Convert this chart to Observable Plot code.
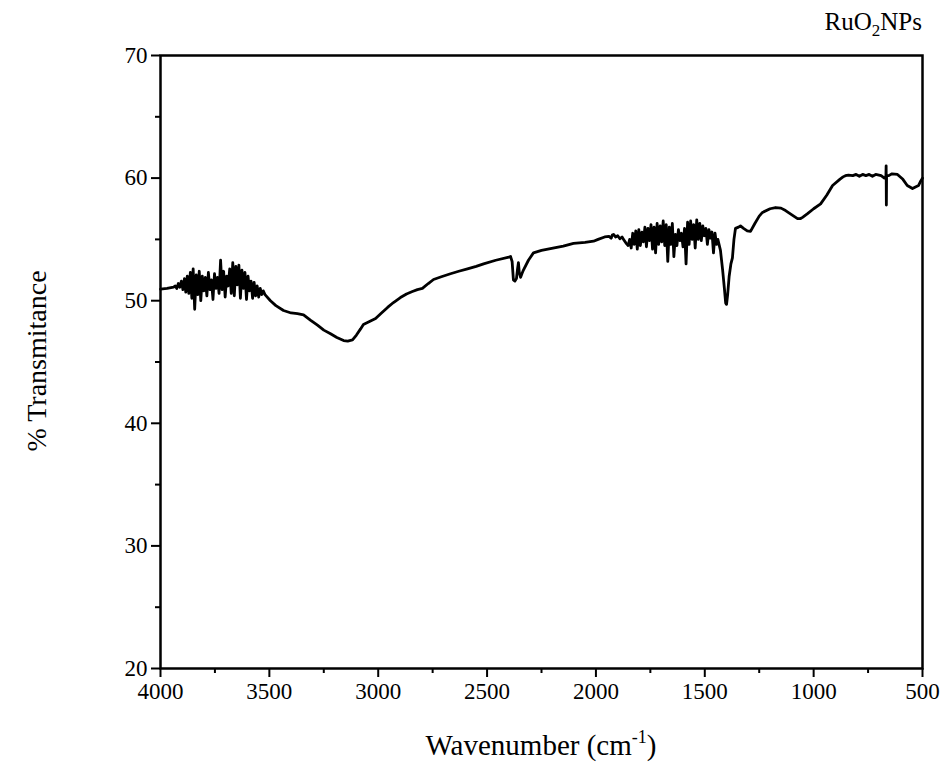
<!DOCTYPE html>
<html>
<head>
<meta charset="utf-8">
<script src="https://cdn.jsdelivr.net/npm/d3@7"></script>
<script src="https://cdn.jsdelivr.net/npm/@observablehq/plot@0.6"></script>
<style>
  body { margin: 0; background: #fff; }
  #chart svg { display: block; }
  #chart text { font-family: "Liberation Serif", "Times New Roman", serif; }
</style>
</head>
<body>
<div id="chart"></div>
<script>
// FTIR spectrum of RuO2 nanoparticles: wavenumber (cm^-1) and % transmittance
const wavenumber = [
  4000, 3970, 3940, 3932, 3925, 3918, 3911, 3904, 3897, 3890, 3884, 3877, 3870, 3863, 3856, 3850,
  3843, 3836, 3829, 3822, 3815, 3808, 3801, 3794, 3787, 3780, 3773, 3766, 3759, 3752, 3745, 3738,
  3731, 3724, 3717, 3710, 3703, 3696, 3689, 3682, 3675, 3668, 3661, 3654, 3647, 3640, 3633, 3626,
  3619, 3612, 3605, 3598, 3591, 3584, 3577, 3570, 3563, 3556, 3549, 3542, 3535, 3528, 3520,
  3495, 3470, 3435, 3400, 3371, 3343, 3310, 3279, 3250, 3219, 3190, 3159, 3140, 3118, 3100, 3081,
  3068, 3040, 3012, 2985, 2957, 2930, 2898, 2870, 2843, 2820, 2797, 2770, 2746, 2710, 2668, 2630,
  2590, 2550, 2516, 2460, 2400, 2392, 2385, 2379, 2372, 2365, 2360, 2356, 2352, 2346, 2340, 2333,
  2310, 2287, 2250, 2209, 2150, 2103, 2050, 2011, 1990, 1960, 1940, 1930, 1925, 1919, 1910, 1900,
  1890, 1880, 1873, 1862, 1852,
  1845, 1838, 1831, 1824, 1817, 1810, 1803, 1796, 1789, 1782, 1775, 1768, 1761, 1754, 1747, 1740,
  1733, 1726, 1719, 1712, 1705, 1698, 1691, 1684, 1677, 1670, 1663, 1656, 1649, 1642, 1635, 1628,
  1621, 1614, 1607, 1600, 1593, 1586, 1579, 1572, 1565, 1558, 1551, 1544, 1537, 1530, 1523, 1516,
  1509, 1502, 1495, 1488, 1481, 1474, 1467, 1460, 1453, 1446, 1440,
  1428, 1418, 1410, 1404, 1400, 1395, 1388, 1380, 1373, 1366, 1359, 1345, 1336, 1322, 1305, 1290,
  1270, 1250, 1235, 1200, 1175, 1150, 1129, 1100, 1074, 1060, 1051, 1028, 1000, 968, 940, 913,
  880, 865, 854, 840, 820, 805, 790, 775, 760, 745, 730, 715, 700, 690, 675, 670, 668, 667, 666,
  665, 662, 655, 640, 615, 590, 570, 546, 530, 518, 510, 500
];
const transmittance = [
  50.95, 51.0, 51.1, 51.2, 51.0, 51.4, 51.1, 51.6, 50.9, 51.8, 50.7, 52.0, 50.6, 52.3, 50.2, 52.6,
  49.3, 52.1, 50.5, 52.4, 50.0, 52.0, 50.8, 51.9, 50.4, 52.3, 50.9, 51.7, 50.1, 52.2, 51.0, 51.9,
  50.6, 53.3, 50.9, 52.4, 50.3, 52.0, 51.2, 52.6, 50.6, 53.1, 50.4, 52.8, 51.3, 52.9, 50.2, 52.5,
  51.0, 52.3, 50.1, 52.0, 50.8, 51.6, 50.2, 51.5, 50.4, 51.2, 50.3, 51.0, 50.5, 50.8, 50.5,
  50.0, 49.6, 49.2, 49.0, 48.95, 48.85, 48.4, 48.0, 47.6, 47.3, 47.0, 46.75, 46.7, 46.8, 47.2, 47.7,
  48.06, 48.3, 48.55, 49.0, 49.45, 49.85, 50.26, 50.55, 50.75, 50.9, 51.0, 51.4, 51.73, 51.95, 52.2, 52.4,
  52.6, 52.8, 53.0, 53.3, 53.55, 53.6, 53.2, 51.7, 51.6, 51.8, 52.6, 53.1, 52.3, 51.9, 52.2, 52.5,
  53.3, 53.9, 54.1, 54.25, 54.45, 54.67, 54.75, 54.85, 55.0, 55.2, 55.25, 55.1, 55.35, 55.4, 55.2, 55.3,
  55.05, 55.2, 55.0, 54.7, 54.5,
  55.0, 54.3, 55.5, 54.6, 55.7, 54.2, 55.8, 54.5, 55.6, 54.8, 56.0, 54.4, 55.9, 54.9, 56.2, 54.2,
  56.0, 53.9, 56.3, 54.6, 56.1, 54.8, 56.5, 54.5, 56.2, 53.2, 56.0, 54.6, 56.3, 53.6, 55.4, 54.5,
  55.8, 54.9, 55.5, 54.4, 55.9, 53.0, 56.4, 54.6, 56.5, 55.0, 56.2, 54.3, 56.6, 55.0, 56.3, 54.9,
  56.1, 55.3, 55.9, 54.6, 55.8, 55.1, 55.6, 53.9, 55.5, 54.6, 55.0,
  54.1, 52.5, 51.0, 49.8, 49.7, 50.5, 52.0, 53.0, 53.5, 55.0, 55.9, 56.0, 56.1, 55.9, 55.7, 55.65,
  56.3, 56.9, 57.2, 57.5, 57.6, 57.55, 57.35, 57.0, 56.7, 56.7, 56.8, 57.1, 57.5, 57.9, 58.6, 59.4,
  59.9, 60.1, 60.2, 60.25, 60.2, 60.3, 60.15, 60.3, 60.2, 60.3, 60.15, 60.3, 60.25, 60.2, 60.0, 60.1, 60.2, 61.0, 57.8,
  60.2, 60.2, 60.2, 60.35, 60.3, 59.9, 59.4, 59.15, 59.3, 59.4, 59.7, 60.0
];

// axis ticks
const xMajor = [4000, 3500, 3000, 2500, 2000, 1500, 1000, 500];
const xMinor = [3750, 3250, 2750, 2250, 1750, 1250, 750];
const yMajor = [20, 30, 40, 50, 60, 70];
const yMinor = [25, 35, 45, 55, 65];

const spectrum = wavenumber.map((w, i) => ({w, t: transmittance[i]}));

const serif = "Liberation Serif, Times New Roman, serif";

const chart = Plot.plot({
  width: 949,
  height: 776,
  marginLeft: 160,
  marginRight: 27,
  marginTop: 55,
  marginBottom: 108,
  style: {fontFamily: serif, background: "#fff", color: "#000"},
  x: {domain: [4000, 500]},
  y: {domain: [20, 70]},
  marks: [
    Plot.axisX(xMinor, {tickSize: 5, text: null, strokeWidth: 2, label: null}),
    Plot.axisX(xMajor, {tickSize: 9, tickPadding: 5, fontSize: 23, strokeWidth: 2,
                        tickFormat: d => String(d), label: null}),
    Plot.axisY(yMinor, {tickSize: 5, text: null, strokeWidth: 2, label: null}),
    Plot.axisY(yMajor, {tickSize: 9, tickPadding: 4, fontSize: 23, strokeWidth: 2,
                        tickFormat: d => String(d), label: null}),
    Plot.line(spectrum, {x: "w", y: "t", stroke: "#000", strokeWidth: 2.8}),
    Plot.frame({stroke: "#000", strokeWidth: 2.5})
  ]
});

document.getElementById("chart").append(chart);

// titles with sub/superscripts
const svg = d3.select(chart);

const title = svg.append("text")
  .attr("x", 922).attr("y", 30)
  .attr("text-anchor", "end")
  .style("font-family", serif).attr("font-size", 25).attr("fill", "#000");
title.append("tspan").text("RuO");
title.append("tspan").attr("font-size", 17).attr("dy", 6).text("2");
title.append("tspan").attr("dy", -6).text("NPs");

const xLabel = svg.append("text")
  .attr("x", 541).attr("y", 755)
  .attr("text-anchor", "middle")
  .style("font-family", serif).attr("font-size", 29).attr("fill", "#000");
xLabel.append("tspan").text("Wavenumber (cm");
xLabel.append("tspan").attr("font-size", 18).attr("dy", -12).text("-1");
xLabel.append("tspan").attr("dy", 12).text(")");

svg.append("text")
  .attr("transform", "translate(46,361) rotate(-90)")
  .attr("text-anchor", "middle")
  .style("font-family", serif).attr("font-size", 28).attr("fill", "#000")
  .text("% Transmitance");
</script>
</body>
</html>
